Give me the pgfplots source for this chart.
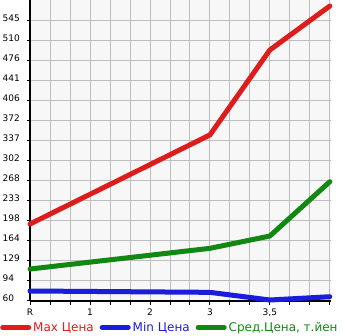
\documentclass[border=0pt]{standalone}
\usepackage{pgfplots}
\pgfplotsset{compat=1.18}
\usepackage{fontspec}
\setmainfont{DejaVu Sans}
\definecolor{cred}{RGB}{221,28,28}
\definecolor{cblue}{RGB}{28,28,221}
\definecolor{cgreen}{RGB}{17,136,17}
\definecolor{bg}{RGB}{247,247,247}
\definecolor{gridc}{RGB}{190,190,190}
\begin{document}
\begin{tikzpicture}
\begin{axis}[
  at={(0,0)}, anchor=south west,
  scale only axis, width=301pt, height=301pt,
  xmin=0, xmax=5.02, ymin=58.3, ymax=579,
  axis lines=left, axis line style={-, line width=2.5pt, black},
  axis background/.style={fill=bg},
  xtick={0,1,2,3,4,5},
  xticklabels={R,1,2,3,{3,5},},
  minor x tick num=2,
  ytick={60,94.6,129.2,163.8,198.4,233,267.6,302.2,336.8,371.4,406,440.6,475.2,509.8,544.4},
  yticklabels={60,94,129,164,198,233,268,302,337,372,406,441,476,510,545},
  grid=both,
  major grid style={gridc, line width=0.8pt},
  minor grid style={gridc, line width=0.8pt},
  tick align=outside,
  major tick length=3.5pt, minor tick length=3.5pt,
  tick style={black, line width=0.8pt},
  /pgf/number format/assume math mode=true,
  ticklabel style={font=\fontsize{9}{10}\selectfont},
  yticklabel style={anchor=west, xshift=-24pt, yshift=2pt, inner sep=0pt},
  xticklabel style={yshift=-1pt},
  clip=false,
  legend style={draw=none, fill=none, at={(axis cs:0,58.3)}, anchor=north west,
    xshift=-30pt, yshift=-19pt, legend columns=3,
    /tikz/every even column/.append style={column sep=4pt},
    font=\fontsize{12}{14}\selectfont, inner sep=0pt, row sep=0pt},
  legend image code/.code={\draw[#1, line cap=round, line width=5pt] (2.5pt,0pt) -- (19.5pt,0pt); \path (0pt,0pt) -- (26pt,0pt);},
]
\addplot[cred, line width=5pt, line cap=round, line join=round] coordinates {(0,191.5) (3,345.5) (4,492.5) (5,568.6)};
\addlegendentry{\textcolor{cred}{Max Цена}}
\addplot[cblue, line width=5pt, line cap=round, line join=round] coordinates {(0,75.6) (3,73.3) (4,60) (5,65.7)};
\addlegendentry{\textcolor{cblue}{Min Цена}}
\addplot[cgreen, line width=5pt, line cap=round, line join=round] coordinates {(0,113.6) (3,149.4) (4,170.7) (5,264.7)};
\addlegendentry{\textcolor{cgreen}{Сред.Цена, т.йен}}
\end{axis}
\pgfresetboundingbox
\path[use as bounding box] (-30pt,-34pt) rectangle (315pt,301pt);
\end{tikzpicture}
\end{document}
